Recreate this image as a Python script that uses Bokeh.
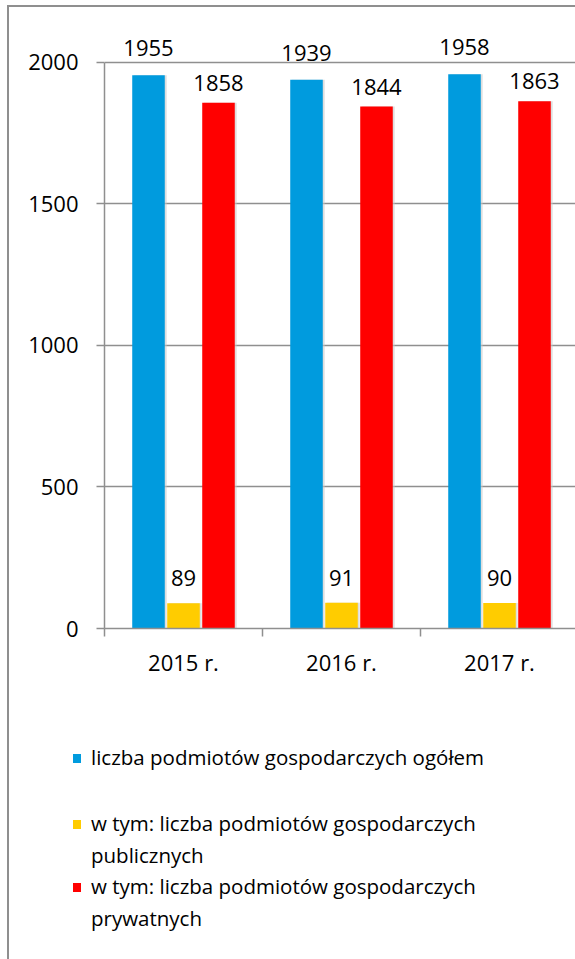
from bokeh.plotting import figure
from bokeh.models import ColumnDataSource, FixedTicker, Range1d, Div
from bokeh.layouts import column
from bokeh.transform import dodge
from bokeh.core.properties import value
from bokeh.embed import file_html
from bokeh.resources import INLINE

# ---- data ----
categories = ["2015 r.", "2016 r.", "2017 r."]
ogolem = [1955, 1939, 1958]
publiczne = [89, 91, 90]
prywatne = [1858, 1844, 1863]
series_names = [
    "liczba podmiotów gospodarczych ogółem",
    "w tym: liczba podmiotów gospodarczych\npublicznych",
    "w tym: liczba podmiotów gospodarczych\nprywatnych",
]
colors = ["#009BDE", "#FFCC00", "#FF0000"]
y_ticks = [0, 500, 1000, 1500, 2000]

FONT = "Open Sans"
FS = "22px"
GRAY = "#8f8f8f"
LEFT = 95

xc = [i + 0.5 for i in range(len(categories))]
bounds = [float(i) for i in range(len(categories) + 1)]
src = ColumnDataSource(dict(
    x=xc, a=ogolem, b=publiczne, c=prywatne,
    la=[str(v) for v in ogolem], lb=[str(v) for v in publiczne], lc=[str(v) for v in prywatne],
))

p = figure(width=566, height=690, x_range=Range1d(0, 2.981), y_range=Range1d(0, 2120),
           output_backend="svg", toolbar_location=None,
           min_border_left=LEFT, min_border_right=0, min_border_top=21, min_border_bottom=69)
p.outline_line_color = None
p.background_fill_color = "white"
p.border_fill_color = "white"

off = 0.2215
bw = 0.206
cols = ["a", "b", "c"]
labs = ["la", "lb", "lc"]
offsets = [-off, 0.0, off]
label_dy = [-27, -25, -20]
for col, o in zip(cols, offsets):
    # soft shadow on the right edge of each bar
    p.vbar(x=dodge("x", o + 0.012, range=p.x_range), top=col, width=bw, source=src,
           fill_color="#c8c8c8", fill_alpha=0.6, line_color=None)
for col, lab, o, c, dy in zip(cols, labs, offsets, colors, label_dy):
    p.vbar(x=dodge("x", o, range=p.x_range), top=col, width=bw, source=src,
           fill_color=c, line_color=None)
    p.text(x=dodge("x", o, range=p.x_range), y=col, text=lab, source=src,
           text_align="center", text_baseline="alphabetic", y_offset=dy,
           text_font=value(FONT), text_font_size=FS, text_color="black")

# y axis
p.yaxis.ticker = FixedTicker(ticks=y_ticks)
p.yaxis.bounds = (0, 2000)
p.yaxis.major_tick_out = 8
p.yaxis.major_tick_in = 0
p.yaxis.minor_tick_line_color = None
p.yaxis.axis_line_color = GRAY
p.yaxis.axis_line_width = 1.5
p.yaxis.major_tick_line_color = GRAY
p.yaxis.major_tick_line_width = 1.5
p.yaxis.major_label_standoff = 18
p.yaxis.major_label_text_font = FONT
p.yaxis.major_label_text_font_size = FS
p.yaxis.major_label_text_color = "black"

# x axis: labels at category centres, tick marks at category boundaries
p.xaxis.ticker = FixedTicker(ticks=xc, minor_ticks=bounds)
p.xaxis.major_label_overrides = {x: c for x, c in zip(xc, categories)}
p.xaxis.major_tick_out = 0
p.xaxis.major_tick_in = 0
p.xaxis.minor_tick_out = 8
p.xaxis.minor_tick_in = 0
p.xaxis.minor_tick_line_color = GRAY
p.xaxis.minor_tick_line_width = 1.5
p.xaxis.axis_line_color = GRAY
p.xaxis.axis_line_width = 1.5
p.xaxis.major_label_standoff = 10
p.xaxis.major_label_text_font = FONT
p.xaxis.major_label_text_font_size = FS
p.xaxis.major_label_text_color = "black"

p.xgrid.visible = False
p.ygrid.grid_line_color = GRAY
p.ygrid.grid_line_width = 1.5

# ---- legend (HTML block under the chart) ----
LW, LH = 566, 262
row_tops = [45, 111, 174]      # layout: top of each entry's first text line
LINE = 31.8
SW_X, SW, TXT_X = 63.7, 8.5, 82
parts = []
for name, c, t in zip(series_names, colors, row_tops):
    parts.append(
        f'<div style="position:absolute;left:{SW_X}px;top:{t + 12}px;width:{SW}px;height:{SW}px;'
        f'background:{c};"></div>')
    parts.append(
        f'<div style="position:absolute;left:{TXT_X}px;top:{t}px;line-height:{LINE}px;'
        f'white-space:pre;">{name}</div>')
html = (f'<div style="position:relative;width:{LW}px;height:{LH}px;margin:0;padding:0;'
        f"font-family:'{FONT}';font-size:20.5px;color:#000;\">" + "".join(parts) + "</div>")
legend_div = Div(text=html, width=LW, height=LH, margin=0,
                 styles={"margin": "0", "padding": "0"})

layout = column(p, legend_div, spacing=0,
                styles={"margin-left": "7px", "margin-top": "5px",
                        "border-left": "2px solid #8f8f8f", "border-top": "2px solid #8f8f8f"})

open("out.html", "w").write(file_html(layout, INLINE))
